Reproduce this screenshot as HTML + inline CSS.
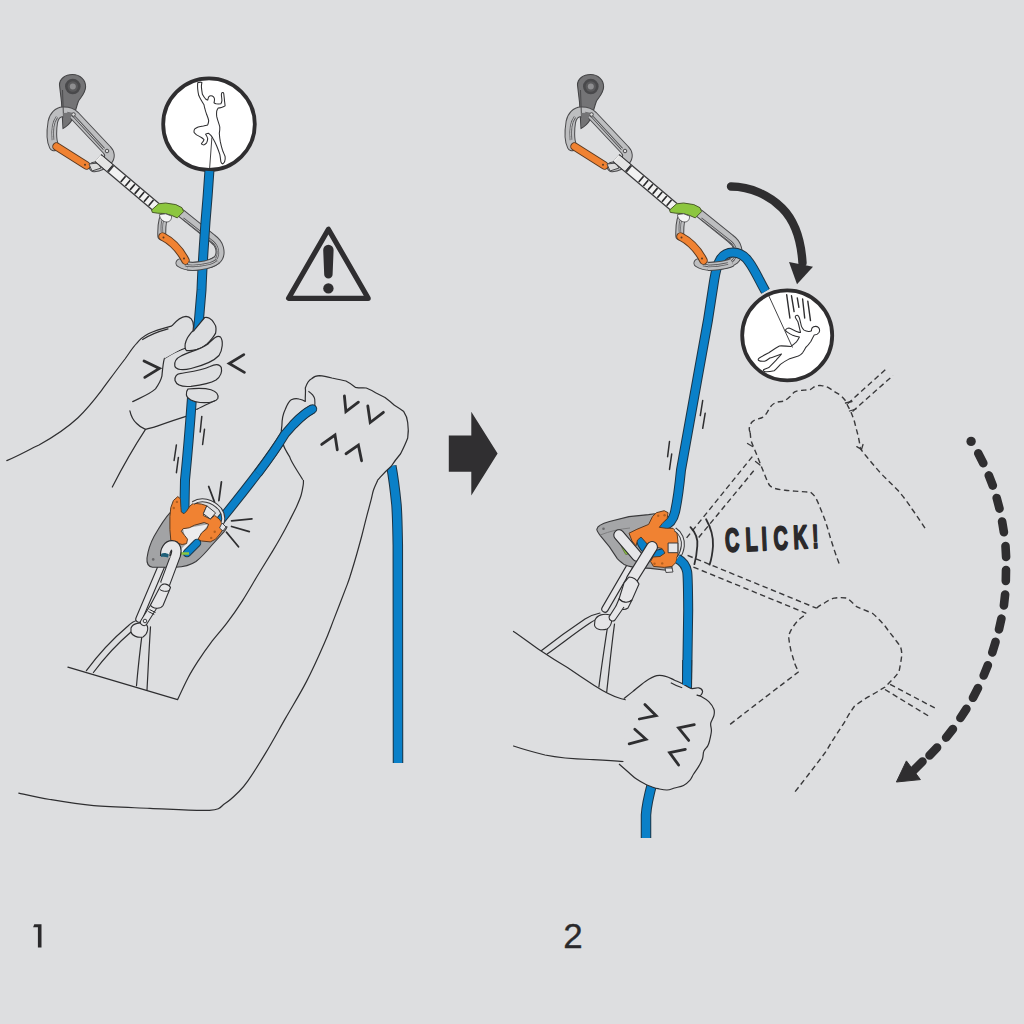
<!DOCTYPE html>
<html><head><meta charset="utf-8"><style>
html,body{margin:0;padding:0;background:#dddee0;width:1024px;height:1024px;overflow:hidden}
svg{display:block}
text{font-family:"Liberation Sans",sans-serif}
</style></head><body>
<svg width="1024" height="1024" viewBox="0 0 1024 1024">
<defs>
<g id="qd">
  <!-- hanger -->
  <path d="M59.5,85 C59.5,79 65,74.5 72.5,74.5 C80,74.5 85.8,80 85.6,87 C85.4,93 81,97 78.5,101 C76.5,106 75,114 72,120 C69.5,124 66,127 63,128.5 L61.5,102 Z" fill="#747476" stroke="#444446" stroke-width="1.1"/>
  <circle cx="72.8" cy="86.5" r="7.8" fill="#49494b"/>
  <circle cx="72.8" cy="86.5" r="5.2" fill="#5a5a5c"/>
  <circle cx="72.8" cy="86.5" r="3" fill="#8e8e90"/>
  <!-- top carabiner -->
  <path d="M54,146 C51,140 51.8,128 52.8,122 C54,116 58,112 63,111.8 C68,111.6 71.5,112.5 75,116 L107,150 C110,153 110.5,157 107.5,160.5 C104.5,163.5 99,166.5 94,167" fill="none" stroke="#4a4a4c" stroke-width="10.5" stroke-linecap="round" stroke-linejoin="round"/>
  <path d="M54,146 C51,140 51.8,128 52.8,122 C54,116 58,112 63,111.8 C68,111.6 71.5,112.5 75,116 L107,150 C110,153 110.5,157 107.5,160.5 C104.5,163.5 99,166.5 94,167" fill="none" stroke="#bdbec0" stroke-width="8.5" stroke-linecap="round" stroke-linejoin="round"/>
  <path d="M53,140 C52,130 53,122 57,117 M67,113 C70,113.5 73,115 75,117.5 L104,149" fill="none" stroke="#59595b" stroke-width="2.6"/>
  <path d="M53,140 C52,130 53,122 57,117 M67,113 C70,113.5 73,115 75,117.5 L104,149" fill="none" stroke="#c9cacc" stroke-width="1"/>
  <circle cx="73.5" cy="114.5" r="1.8" fill="#dcdcdc" stroke="#4a4a4c" stroke-width="1"/>
  <circle cx="107" cy="151" r="1.8" fill="#dcdcdc" stroke="#4a4a4c" stroke-width="1"/>
  <path d="M62.5,90 L63.5,118" stroke="#4a4a4c" stroke-width="1"/>
  <path d="M63.2,113 L72,112.5 L70,121 L63.5,127.5 Z" fill="#747476"/>
  <!-- top gate -->
  <path d="M56.5,146.5 L86.5,165.5" stroke="#5a3a22" stroke-width="8.5" stroke-linecap="round"/>
  <path d="M56.5,146.5 L86.5,165.5" stroke="#f08232" stroke-width="6.5" stroke-linecap="round"/>
  <circle cx="85" cy="164.8" r="1" fill="#5a3a22"/>
  <path d="M89,164 L98,163 L101,168 L92,171 Z" fill="#dcdcdc" stroke="#4a4a4c" stroke-width="1"/>
  <!-- sling -->
  <path d="M98,158 L156,207" stroke="#3a3a3c" stroke-width="10.5"/>
  <path d="M98,158 L156,207" stroke="#f2f2f2" stroke-width="8"/>
  <path d="M109.5,167.7 L111.5,169.4" stroke="#3a3a3c" stroke-width="8"/>
  <path d="M122.5,178.6 L154,205.3" stroke="#2a2a2c" stroke-width="7.5" stroke-dasharray="1.7 4.4"/>
  <path d="M99,158.8 L109.5,167.7" stroke="#e4e4e4" stroke-width="8"/>
  <!-- bottom carabiner -->
  <path d="M166,214 C162,218 161.5,226 161.8,236 M180,263 C186,267 193,266.8 200,265.8 C207,264.8 213,263 216.8,260 C220,257 220.5,252 219.5,248 C218.5,244 216,241 212.5,238.5 L181.5,213.5" fill="none" stroke="#4a4a4c" stroke-width="9" stroke-linecap="round" stroke-linejoin="round"/>
  <path d="M166,214 C162,218 161.5,226 161.8,236 M180,263 C186,267 193,266.8 200,265.8 C207,264.8 213,263 216.8,260 C220,257 220.5,252 219.5,248 C218.5,244 216,241 212.5,238.5 L181.5,213.5" fill="none" stroke="#bdbec0" stroke-width="7" stroke-linecap="round" stroke-linejoin="round"/>
  <path d="M162,232 C161.5,226 162,221 164,218 M185,265 C192,266.5 202,265.5 210,263.5 C214,262 217,259 217.8,255 C218.5,250 217,245.5 213,242 L183,218.5" fill="none" stroke="#59595b" stroke-width="2.4"/>
  <path d="M162,232 C161.5,226 162,221 164,218 M185,265 C192,266.5 202,265.5 210,263.5 C214,262 217,259 217.8,255 C218.5,250 217,245.5 213,242 L183,218.5" fill="none" stroke="#c9cacc" stroke-width="0.9"/>
  <!-- bottom gate -->
  <path d="M162.5,236.5 Q177,244 185.5,260.5" fill="none" stroke="#5a3a22" stroke-width="8.5" stroke-linecap="round"/>
  <path d="M162.5,236.5 Q177,244 185.5,260.5" fill="none" stroke="#f08232" stroke-width="6.5" stroke-linecap="round"/>
  <circle cx="163.5" cy="237.5" r="1" fill="#5a3a22"/>
  <circle cx="184" cy="258.5" r="1" fill="#5a3a22"/>
  <!-- green rubber -->
  <path d="M151.6,210 L158.6,203.8 L165.6,203 L175.8,204.6 L182,207.7 L183.6,211.6 L177.3,217.9 L171.9,215.5 L165.6,213.6 L157.8,213.2 L152.3,212.4 Z" fill="#8cc63f" stroke="#4a5a2a" stroke-width="1"/>
  <path d="M159.4,214.6 C160,219 163,222 167,222 C170,222 172,219 171.5,216 L165.6,213.8 Z" fill="#f4f4f4" stroke="#4a4a4c" stroke-width="0.8"/>
</g>
<!-- bottom bar segment of bottom carabiner (drawn over rope) -->
<g id="qdbar">
  <path d="M187.62,266.00 C191.60,266.71 195.80,266.40 200.00,265.80 C207,264.8 213,263 216.8,260" fill="none" stroke="#4a4a4c" stroke-width="9"/>
  <path d="M187.62,266.00 C191.60,266.71 195.80,266.40 200.00,265.80 C207,264.8 213,263 216.8,260" fill="none" stroke="#bdbec0" stroke-width="7"/>
  <path d="M186,265.3 C192,266.5 202,265.5 210,263.5 C213,262.5 215,261.3 216.5,260" fill="none" stroke="#59595b" stroke-width="2.4"/>
  <path d="M186,265.3 C192,266.5 202,265.5 210,263.5 C213,262.5 215,261.3 216.5,260" fill="none" stroke="#c9cacc" stroke-width="0.9"/>
</g>
</defs>
<rect width="1024" height="1024" fill="#dddee0"/>

<!-- ================= PANEL 1 ================= -->
<g id="p1">
<!-- warning triangle -->
<path d="M328.4,229.2 L288.6,298.3 L368.2,298.3 Z" fill="none" stroke="#2f2e30" stroke-width="5.2" stroke-linejoin="round"/>
<path d="M323.2,250 A5.2,5.2 0 0 1 333.6,250 L332.6,274.4 A4.2,4.2 0 0 1 324.2,274.4 Z" fill="#2f2e30"/>
<circle cx="328.4" cy="288.4" r="5.2" fill="#2f2e30"/>

<g fill="none" stroke="#2e2e30" stroke-width="1.2" stroke-linecap="round" stroke-linejoin="round">
<!-- left arm top line -->
<path d="M6.8,460.6 C20,455 30,449 39,445 C55,436 68,427 78,417.7 C88,408 95,399 101.6,390.3 C110,379 118,368 125,359 C130,352 133,347 136.7,343.4 C140,339 144,336 148.4,333.7 C156,330 164,328 171.9,325.9"/>
<path d="M142.6,339.5 C150,334.5 160,331 168,328.8"/>
<!-- left arm lower line -->
<path d="M112.3,487 C120,472 132,450 145.5,429.4"/>
<path d="M129.9,410.8 C131,416 134,421 136.7,423.5 C139,426 142,428 145.5,429.4 C150,428 153,427.5 156.25,426.4 C166,423 176,419.5 186,416.4"/>
<!-- palm / thumb crease -->
<path d="M132.7,401.6 C142,397 150,394 155.5,388.9 C159,384 161,380 161.9,376.2 C162.5,370 163,363 164.4,358.4 C170,355 178,350.5 186,348"/>
<!-- right forearm inner -->
<path d="M303.4,480.0 C303.4,480.8 303.6,482.5 303.2,485.0 C302.8,487.5 302.2,491.6 301.1,495.2 C300.0,498.8 298.3,502.6 296.4,506.9 C294.4,511.2 292.1,515.6 289.4,520.9 C286.7,526.2 282.8,533.5 280.0,538.5 C277.2,543.5 276.2,545.2 272.6,551.1 C269.0,557.0 263.5,565.8 258.5,574.0 C253.5,582.2 248.0,592.1 242.7,600.3 C237.4,608.5 232.1,616.2 226.8,623.2 C221.5,630.2 215.7,636.5 211.0,642.6 C206.3,648.8 202.5,654.2 198.7,660.1 C194.9,666.0 191.6,671.1 188.1,677.7 C184.6,684.3 179.3,696.0 177.6,699.7 L67.9,667.2"/>
<!-- right forearm outer -->
<path d="M377.6,480.5 C376.9,482.1 374.5,487.0 373.5,490.0 C372.5,493.0 372.5,494.3 371.4,498.7 C370.3,503.1 368.3,510.2 366.7,516.3 C365.1,522.3 363.7,528.5 362.0,535.0 C360.3,541.5 358.4,548.3 356.5,555.0 C354.6,561.7 352.1,569.9 350.5,575.0 C348.9,580.1 349.6,578.2 346.9,585.4 C344.2,592.6 338.0,608.7 334.2,618.4 C330.4,628.1 328.8,633.2 324.1,643.8 C319.5,654.4 312.7,669.6 306.3,681.9 C299.9,694.2 292.8,705.6 286.0,717.4 C279.2,729.2 272.1,742.3 265.7,752.9 C259.3,763.5 252.5,774.3 247.9,780.9 C243.3,787.5 241.8,788.7 238.0,792.5 C234.2,796.3 229.8,800.5 225.0,803.5 C220.2,806.5 221.9,809.5 209.4,810.3 C196.9,811.1 169.3,809.1 150.0,808.3 C130.7,807.5 110.4,807.1 93.8,805.6 C77.1,804.1 62.5,801.6 50.0,799.5 C37.5,797.4 24.0,794.2 18.8,793.1"/>
<!-- harness -->
<path d="M86.4,670.7 C100,652 115,637 128,626 C131,623 134,621 137,620.5"/>
<path d="M93.4,672.5 C105,657 118,643 131,632"/>
<path d="M136.5,685.7 C138,668 140,650 142.6,630.3"/>
<path d="M147,690 C148,672 149,650 150.5,626.8"/>
</g>

<use href="#qd"/>

<!-- circle 1 -->
<circle cx="209" cy="124.2" r="45.8" fill="#fff" stroke="#2f2e30" stroke-width="3.8"/>
<path d="M197.7,82.7 C199,82.2 200.8,82 201.9,82.4 C201.6,84 201.3,85.5 201.4,86.9 C201.6,89.5 202,92 202.4,94.3 C203.3,96 204.3,97.6 205.6,99 C206.3,99.5 207,99.9 207.7,100.1 C208,99 208.2,97.8 208.7,96.9 C209.3,96.2 210,95.8 210.9,95.8 C212,95.8 212.9,96.2 213.5,96.9 C214.2,97.7 214.6,98.6 214.5,99.5 C214.5,100.7 214.3,101.8 214,102.7 C214.7,103.2 215.4,103.6 216.1,103.8 C217.7,104 219.3,104 220.9,103.8 C221.5,102.8 221.8,101.7 221.9,100.6 C221.9,98.8 221.6,97 221.4,95.3 C221.3,94.3 221.5,93.4 221.9,92.7 C222.4,92.5 223,92.5 223.5,92.7 C223.8,93.7 223.9,94.7 224,95.8 C224.3,97.8 224.4,99.7 224.6,101.6 C224.8,103 225,104.5 225.1,105.9 C224,106.6 222.7,107.1 221.4,107.4 C220.3,107.7 219.2,107.9 218.2,108 C217.6,109 217,110 216.7,111.1 C216.5,112.9 216.5,114.6 216.7,116.4 C217.1,118.2 217.6,119.9 218.2,121.7 C218.8,123.5 219.4,125.2 219.8,127 C219.9,129.1 219.7,131.2 219.3,133.3 C219.5,136 219.8,138.9 220.3,141.7 C220.9,144.6 221.6,147.4 222.5,150.2 C223.3,152.3 224.3,154.4 225.1,156.5 C225.4,158.3 225.2,160.1 224.6,161.8 C224,162.9 223.3,163.6 222.5,163.9 C221.7,163.4 221.2,162.7 220.9,161.8 C220.5,159.3 220.3,156.8 219.8,154.4 C218.9,151.5 217.8,148.7 216.7,146 C215.6,143.5 214.4,141 213,138.6 C212.4,137.5 211.7,136.4 210.9,135.4 C210.2,134.6 209.5,133.9 208.7,133.3 C207.7,133.4 206.6,133.8 205.6,134.3 C206.5,135.6 207.3,137.1 207.7,138.6 C207.6,140.1 207.2,141.6 206.6,142.8 C205.8,143.7 204.9,144.4 204,144.9 C203,144.8 202,144.4 201.4,143.8 C201.8,143 202.4,142.3 203,141.7 C203.4,141 203.8,140.3 204,139.6 C203.2,138.8 202.3,138.1 201.4,137.5 C199.8,136.7 198.2,135.8 196.6,134.9 C195.6,134.1 194.7,133.2 194,132.2 C193.9,131.1 194.1,130 194.5,129.1 C195.6,128.2 196.9,127.5 198.2,127 C200,126.5 201.7,126.2 203.5,125.9 C204.9,125.6 206.3,125.2 207.7,124.9 C208.2,123.5 208.6,122 208.7,120.6 C208.2,118.4 207.4,116.3 206.6,114.3 C206,112.5 205.4,110.8 205,109 C204.5,107.6 204.2,106.2 204,104.8 C203.1,103.4 202.2,102 201.4,100.6 C200.4,98.9 199.5,97.1 198.7,95.3 C198.2,93.2 197.9,91.1 197.7,89 C197.5,86.9 197.5,84.8 197.7,82.7 Z" fill="#fff" stroke="#2e2e30" stroke-width="1.05" stroke-linejoin="round"/>
<path d="M211.9,137.5 L209.5,170" stroke="#2e2e30" stroke-width="0.9" fill="none"/>

<!-- harness: locking carabiner back spine -->
<g fill="none" stroke-linecap="round">
 <path d="M161.5,566 L139,619" stroke="#2e2e30" stroke-width="7.5"/>
 <path d="M161.5,566 L139,619" stroke="#e4e4e6" stroke-width="5.3"/>
</g>
<path d="M131,628 C133,623 140,622 146,624 C149,627 148,634 143,637 C138,638 132,636 131,632 Z" fill="#e4e4e6" stroke="#2e2e30" stroke-width="1.1"/>

<!-- device 1 gray plate -->
<path d="M169.9,512.9 C166,517 160,526 154,536.6 C150,544 148,551 147,558 C146.5,563 148,566.5 152.5,567.3 L175.2,567.3 C182,567 190,565.5 196,561.5 C202,557 207,551 212,545 L224.4,531.3 C226,529 227,527.5 227,526.9 Z" fill="#a2a3a5" stroke="#3a3a3c" stroke-width="1.1"/>
<circle cx="153.2" cy="559.4" r="1.3" fill="#6a6a6c"/>
<!-- device hole -->
<path d="M183,528.7 L208.6,524.3 L201.5,533 L197,543 L192,551 L185,553.5 L179,551 L186.6,543.6 Z" fill="#ececee"/>
<path d="M197,543 L187,553" stroke="#1e3a4e" stroke-width="8.5" stroke-linecap="round"/>
<path d="M197,543 L187,553" stroke="#0a80c8" stroke-width="6.5" stroke-linecap="round"/>
<path d="M180,553.5 L189,553.5" stroke="#8cc63f" stroke-width="2.5"/>

<!-- rope main -->
<path d="M209.4,171 C208.5,185 207,205 205.5,222 C204,245 202.5,262 201.5,290 L197.6,336" fill="none" stroke="#1d3444" stroke-width="10"/>
<path d="M209.4,171 C208.5,185 207,205 205.5,222 C204,245 202.5,262 201.5,290 L197.6,336" fill="none" stroke="#0a80c8" stroke-width="8"/>
<path d="M192.2,396 L191.8,400 C190,425 187.5,455 185,480 L184.4,512" fill="none" stroke="#1d3444" stroke-width="10" stroke-linecap="round"/>
<path d="M192.2,396 L191.8,400 C190,425 187.5,455 185,480 L184.4,512" fill="none" stroke="#0a80c8" stroke-width="8" stroke-linecap="round"/>

<use href="#qdbar"/>

<!-- rope right (device to fist) -->
<path d="M220.00,521.00 C242.00,494.00 268.00,462.00 285.00,434.00 C295.00,422.00 303.00,414.00 312.50,409.00" fill="none" stroke="#1d3444" stroke-width="9.4"/>
<path d="M220.00,521.00 C242.00,494.00 268.00,462.00 285.00,434.00 C295.00,422.00 303.00,414.00 312.50,409.00" fill="none" stroke="#0a80c8" stroke-width="7.4"/>
<!-- device orange -->
<path d="M170.8,507.6 L173.4,500.5 L177.8,496.6 L180.4,498.8 L180.9,507.6 L181.3,512 L184,513.7 L186.6,511.1 L190.1,505.8 L193.6,503.2 L201.5,504.1 L206.8,505.8 L204.2,512 L203.3,515.5 L210.3,519 L214.7,515.5 L219.1,519 L222.6,523.4 L223.5,528.7 L220,533.9 L215.6,539.2 L210.3,541.9 L201.5,541 L198,539.2 L201.5,533 L206.8,528.7 L208.6,524.3 L204.2,522.5 L194.5,525.2 L189.2,527.8 L183.1,528.7 L181.3,531.3 L184.8,535.7 L187.5,539.2 L186.6,543.6 L182.2,544.5 L175.2,542.7 L170.8,540.1 L169.9,529.6 L169.9,516.4 Z" fill="#f08232" stroke="#5a3a22" stroke-width="1" stroke-linejoin="round"/>
<path d="M206.8,505.8 L215.6,512.9 L210.3,519 L203.3,513.7 Z" fill="#e6e6e8" stroke="#3a3a3c" stroke-width="1"/>
<path d="M193,503 C201,498 212,500 220,509 C223,513 224,518 222.5,523" fill="none" stroke="#3a3a3c" stroke-width="4"/>
<path d="M193,503 C201,498 212,500 220,509 C223,513 224,518 222.5,523" fill="none" stroke="#e6e6e8" stroke-width="2"/>
<g fill="#b4601f"><circle cx="176.9" cy="501.9" r="1.2"/><circle cx="173.8" cy="508" r="1.2"/><circle cx="214.7" cy="531.7" r="1.2"/><circle cx="211.2" cy="537.9" r="1.2"/></g>
<path d="M222,523 L226,527 L223,531 L219.5,528 Z" fill="#e6e6e8" stroke="#3a3a3c" stroke-width="0.9"/>

<!-- rope hanging -->
<path d="M391.3,466 C393,475 395,490 396.5,505 C397.5,520 397.5,531 397.8,545 L398,763" fill="none" stroke="#1d3444" stroke-width="10.5"/>
<path d="M391.3,466 C393,475 395,490 396.5,505 C397.5,520 397.5,531 397.8,545 L398,763" fill="none" stroke="#0a80c8" stroke-width="8.5"/>

<!-- locking carabiner front -->
<g fill="none" stroke-linecap="butt" stroke-linejoin="round">
 <path d="M165.2,556 C164.8,550 168,545.3 172,545.3 C176,545.3 177.3,550 175.8,555 L165,584" stroke="#2e2e30" stroke-width="10.5"/>
 <path d="M165.2,556 C164.8,550 168,545.3 172,545.3 C176,545.3 177.3,550 175.8,555 L165,584" stroke="#e6e6e8" stroke-width="8.3"/>
</g>
<path d="M159.5,556 L170.9,556 L169.2,558.5 L160.7,558.5 Z" fill="#a2a3a5"/>
<path d="M161.2,553.8 C163.2,552.6 166.7,552.8 168.9,554.6 L167.9,557.6 C165.7,556.6 163,556.4 160.9,557 Z" fill="#1f5f78"/>
<path d="M154,606 L144,622" stroke="#2e2e30" stroke-width="8" stroke-linecap="round"/>
<path d="M154,606 L144,622" stroke="#e6e6e8" stroke-width="6" stroke-linecap="round"/>
<path d="M149.5,609.5 L155.5,612.5 M148.3,611.5 L154.3,614.5" stroke="#2e2e30" stroke-width="1"/>
<path d="M160.5,586 C163,583 168.5,583.5 170.5,587.5 L163,605.5 C160.5,609.5 152.5,609 150.5,605 Z" fill="#e6e6e8" stroke="#2e2e30" stroke-width="1.1" stroke-linejoin="round"/>
<path d="M159.8,589.5 C162.5,591.5 166.5,592 169.3,590.5" fill="none" stroke="#2e2e30" stroke-width="1"/>
<circle cx="145" cy="621" r="1.8" fill="#e6e6e8" stroke="#2e2e30" stroke-width="0.9"/>

<!-- left hand fingers (over rope) -->
<g fill="#dddee0" stroke="#2e2e30" stroke-width="1.2" stroke-linejoin="round">
<path d="M171.9,325.9 C176,321 181,316.5 186,316.3 C190,316.5 193.5,320 193.5,326 C193.5,331 191.5,336 188,340 C185,344 183,347 181,349 L164.4,358.4 C166,352 170,346 174,340 Z" stroke="none"/>
<path d="M171.9,325.9 C176,321 181,316.5 186,316.3 C190,316.5 193.5,320 193.5,326 C193.5,331 191.5,336 188,340" fill="none"/>
<path d="M193.75,330.8 C197,327 201,322 204.7,317.5 C206,317.2 208,317.5 209.4,318.3 C211.5,319.5 213,321 214,323 C215.3,324.8 216,326.5 216,328.4 C216,330 215.9,331.6 215.6,333.1 C214.7,334.8 213.7,336.4 212.5,337.8 C210.8,340 209,342 207,344 C205,345.6 203,347 200.8,348 C198,349.3 195,350 192.2,350.3 C190.3,350.6 188.5,350.8 186.7,350.7 C185.8,350 185.3,349 185.2,348 C185,346.7 185,345.3 185.2,344 C185.7,341.8 186.5,339.7 187.5,337.8 C188.7,335.9 190,334 191.4,332.3 C192.2,331.7 193,331.2 193.75,330.8 Z"/>
<path d="M181,356 C188,352 200,350 208,344 C213,339 217,334.5 220.5,337 C223.5,341 222.5,350 219,355.5 C214,361 205,365 191,368.5 C183,370.5 176,370 174.8,366 C174,361 177,358 181,356 Z"/>
<path d="M179.7,373.6 C188,372 200,371 210,366.5 C215,364 219.5,363.5 221.3,367.5 C222.5,373 220,377 216,380 C211,383 202,385 191,386.3 C183,387 176.5,385 175,380.5 C174.5,376.5 177,374 179.7,373.6 Z"/>
<path d="M188,389 C195,388.3 205,388 211,389.8 C216,391.5 219,394 217.8,398.5 C215.5,402 208,403 200,402.5 C193,402 187,399 186.4,395 C186.3,392 187,390 188,389 Z"/>
</g>
<g fill="none" stroke="#2e2e30" stroke-width="1.2" stroke-linecap="round">
<path d="M196.7,409.4 C203,406 209,403.5 214.7,400.8"/>
</g>

<!-- right fist (over rope) -->
<path d="M302.8,479.8 C297,470 291,462 289.7,456.9 C286,451 283.5,446 283.4,444.4 C281,436 281,430 281.9,425.6 C282,418 283,414 285,410 C287,405 289,401 291.25,399.8 C294,398.5 297,398.3 299,399 C302,399.5 304,400.5 305.3,401.4 C305,395 306,391 305.3,388 C307,383 309,380 311.6,378.75 C314,376.5 317,375.6 319.4,375.6 C324,376 328,377 331.9,378 C337,379 342,380 345.9,381 C350,383 353,385.5 355.3,387.3 C359,388 363,387.8 366.25,388 C370,389.5 373,391 375.6,392.8 C379,394.5 382,396 385,397.5 C389,400.5 392,403 394.4,405.3 C398,407.5 401,409.5 403.75,411.6 C406,415 407.5,419 407.7,422.5 C408.5,428 408.5,433 407.7,438 C405.5,444 403,449 400.6,453.75 C397,458 394,462 391.25,466.25 C387,470 383,474 380.3,477.2 C379,479 378,480 377.3,479.8" fill="#dddee0" stroke="#2e2e30" stroke-width="1.2" stroke-linejoin="round"/>
<path d="M308.4,391.25 C311,393 314,396 314.7,399 C315,402 315,405 314.7,406.9" fill="none" stroke="#2e2e30" stroke-width="1.1"/>
<!-- rope top end over fist -->
<path d="M257.77,473.41 C267.88,460.01 277.35,446.60 285.00,434.00 C295.00,422.00 303.00,414.00 312.50,409.00" fill="none" stroke="#1d3444" stroke-width="9.4"/>
<path d="M293.55,424.25 C299.94,417.47 305.85,412.50 312.50,409.00" fill="none" stroke="#1d3444" stroke-width="9.4" stroke-linecap="round"/>
<path d="M257.77,473.41 C267.88,460.01 277.35,446.60 285.00,434.00 C295.00,422.00 303.00,414.00 312.50,409.00" fill="none" stroke="#0a80c8" stroke-width="7.4"/>
<path d="M293.55,424.25 C299.94,417.47 305.85,412.50 312.50,409.00" fill="none" stroke="#0a80c8" stroke-width="7.4" stroke-linecap="round"/>
<!-- chevrons -->
<g fill="none" stroke="#2e2e30" stroke-width="2.8" stroke-linecap="round" stroke-linejoin="miter">
<path d="M144,361 L159.4,368.5 L144.8,377.4"/>
<path d="M243.8,354.6 L229.2,363.5 L244.4,372.4"/>
<path d="M344.4,396 L345.9,411.6 L358.4,402.2"/>
<path d="M367.8,406 L370.2,422.5 L383.4,412.3"/>
<path d="M321.7,444.4 L335,435 L337.3,449.8"/>
<path d="M346,453.75 L358.4,445.2 L361.6,460.8"/>
</g>
<!-- motion & spark lines -->
<g fill="none" stroke="#2e2e30" stroke-width="1.5" stroke-linecap="round">
<path d="M201.8,416.4 L200.2,432"/><path d="M204.5,429.3 L202.6,444.5"/>
<path d="M176.4,444.9 L174.1,460.5"/><path d="M178.4,457.4 L176.4,472.7"/>
</g>
<g fill="none" stroke="#2e2e30" stroke-width="1.8" stroke-linecap="round">
<path d="M208.7,486.5 L214.4,501.7"/><path d="M221.4,482 L218.9,500.5"/>
<path d="M231.6,520.8 L251.9,518.9"/><path d="M231.6,526.5 L249.3,531.6"/><path d="M226.5,532.2 L238.5,546.8"/>
</g>

<path d="M34.3,924.2 L41.5,924.2 L41.5,947.4 L37.9,947.4 L37.9,927.3 L33.1,927.3 Z" fill="#2a292b"/>
</g>

<!-- big arrow between panels -->
<path d="M448.8,435.6 L471.3,435.6 L471.3,411.8 L497.6,453.6 L471.3,495.4 L471.3,471.8 L448.8,471.8 Z" fill="#302f31"/>

<!-- ================= PANEL 2 ================= -->
<g id="p2">
<!-- arm/harness lines -->
<g fill="none" stroke="#2e2e30" stroke-width="1.2" stroke-linecap="round" stroke-linejoin="round">
<path d="M513.5,631.4 C522,637 531,644 540.4,650.5 C550,657 558,662 567.4,667.4 C577,674 586,680 594.3,685.4 C603,691 612,696 621.3,698.8 C625,700 629,700.5 632.5,701"/>
<path d="M513.5,746 C524,749.5 535,752.5 545,755 C560,758 575,759 589.8,759.5 C600,760 612,760.5 623.5,761.7"/>
<path d="M541.6,650.5 C555,640 570,629 585,619 C590,616 595,614 600,613"/>
<path d="M547.2,654 C560,645 575,633 590,623 C594,620 598,618.5 603,618"/>
<path d="M598.9,687 C601,670 604,650 607.5,627"/>
<path d="M606.7,692 C609,672 611,650 614.5,624"/>
</g>

<use href="#qd" transform="translate(518,0)"/>

<!-- harness carabiner back spine -->
<g fill="none" stroke-linecap="round">
 <path d="M630,566 L605,609" stroke="#2e2e30" stroke-width="7.5"/>
 <path d="M630,566 L605,609" stroke="#e4e4e6" stroke-width="5.3"/>
</g>
<path d="M595,620 C597,615 604,613 610,615 C613,618 612,626 607,629 C601,631 595,629 594.5,625 Z" fill="#e4e4e6" stroke="#2e2e30" stroke-width="1.1"/>

<!-- device 2 gray plate -->
<path d="M596.8,529.3 C597.5,527 598.5,526 599.8,525.4 C603,523.5 606,522.5 609.5,521.5 L629,516.6 L648.6,514.6 L654.5,513.7 L672,560 L672,570.3 L666.2,570.3 L650.5,568.4 L634,567.4 C630,566.5 627,565.8 624.2,564.5 C621,562 619,560.5 617.3,558.6 L609.5,546.9 L600.7,536.1 C598.5,533.5 597,531 596.8,529.3 Z" fill="#a5a6a8" stroke="#3a3a3c" stroke-width="1.1" stroke-linejoin="round"/>
<path d="M599.8,535.2 C610,531 620,529 630,528" fill="none" stroke="#7a7a7c" stroke-width="0.9"/>
<circle cx="603.5" cy="528.8" r="1.3" fill="#6a6a6c"/>
<path d="M620.5,543.5 C623.5,545 626.5,548.5 628.2,554 L625.8,554.5 C623.5,551 621.5,547.5 620.5,543.5 Z" fill="#8cc63f" stroke="#4a5a2a" stroke-width="0.6"/>

<!-- rope panel 2 top -->
<path d="M765.5,291.3 C760,282 755,270 749,262 C745,256 740,252.5 733,252.5 C727,252.5 722.5,255.5 720,260 C717,265 715.5,272 714.2,280 L708,320 L697.2,380 L681,470 C679,490 677,503 675,512 C673.5,519 670,524 664,525.5 L660,526" fill="none" stroke="#1d3444" stroke-width="10" stroke-linejoin="round"/>
<path d="M765.5,291.3 C760,282 755,270 749,262 C745,256 740,252.5 733,252.5 C727,252.5 722.5,255.5 720,260 C717,265 715.5,272 714.2,280 L708,320 L697.2,380 L681,470 C679,490 677,503 675,512 C673.5,519 670,524 664,525.5 L660,526" fill="none" stroke="#0a80c8" stroke-width="8" stroke-linejoin="round"/>
<!-- bottom bar over rope (panel 2) -->
<g transform="translate(518,0)">
  <path d="M190,266.4 C193.5,266.6 197,266.2 200,265.8 C207,264.8 211,263.7 214,262.3" fill="none" stroke="#4a4a4c" stroke-width="9"/>
  <path d="M190,266.4 C193.5,266.6 197,266.2 200,265.8 C207,264.8 211,263.7 214,262.3" fill="none" stroke="#bdbec0" stroke-width="7"/>
  <path d="M190,266 C194,266 202,265.5 210,263.5" fill="none" stroke="#59595b" stroke-width="2.4"/>
  <path d="M190,266 C194,266 202,265.5 210,263.5" fill="none" stroke="#c9cacc" stroke-width="0.9"/>
</g>
<!-- rope inside device -->
<path d="M640.5,539 C642,545 646,550 652,553.5 C656,555 660,554.5 664,553" fill="none" stroke="#1d3444" stroke-width="10" stroke-linecap="round"/>
<path d="M640.5,539 C642,545 646,550 652,553.5 C656,555 660,554.5 664,553" fill="none" stroke="#0a80c8" stroke-width="8" stroke-linecap="round"/>
<!-- white top loop of carabiner -->
<g fill="none" stroke-linecap="round">
 <path d="M619,535 L637,556" stroke="#2e2e30" stroke-width="11.5"/>
 <path d="M619,535 L637,556" stroke="#e6e6e8" stroke-width="9.3"/>
</g>
<!-- orange 2 -->
<path d="M629,533.2 L636.9,529.3 L648.6,524.4 L652.5,516.6 L656.4,512.7 L664.2,510.7 L668.1,512.7 L667.1,518.6 L662.3,523.4 L659.3,527.3 L666.2,528.3 L673,528.3 L676.9,532.2 L677.9,541 L677.9,554.7 L675.9,562.5 L672,566.4 L664.2,567.4 L653.5,566.4 L650.5,561.5 L653,557 L660,556.5 L665,553 L662,548.5 L655,547 L649,546 L645,541.5 L641,537 L637.5,540 L636,545.9 L632,541 Z" fill="#f08232" stroke="#5a3a22" stroke-width="1" stroke-linejoin="round"/>
<path d="M668.1,543 L677.9,543 L677.9,552.7 L668.1,552.7 Z" fill="#e6e6e8" stroke="#3a3a3c" stroke-width="1"/>
<path d="M675,529.3 C681,533 683.5,540 682.8,546 C682.3,551 680.5,555 677.9,558.6" fill="none" stroke="#3a3a3c" stroke-width="4"/>
<path d="M675,529.3 C681,533 683.5,540 682.8,546 C682.3,551 680.5,555 677.9,558.6" fill="none" stroke="#e6e6e8" stroke-width="2"/>
<g fill="#b4601f"><circle cx="658.2" cy="515.8" r="1.2"/><circle cx="664.6" cy="515.2" r="1.2"/><circle cx="654.5" cy="563.8" r="1.2"/><circle cx="662.2" cy="563.4" r="1.2"/></g>
<path d="M665,568 L672,568 L673,572 L666,572.5 Z" fill="#e6e6e8" stroke="#3a3a3c" stroke-width="0.9"/>
<!-- rope exit down to hand -->
<path d="M677.6,558.7 C682,561 686,565 687.2,572 C688,577 688,590 688.2,610 L687,690" fill="none" stroke="#1d3444" stroke-width="10"/>
<path d="M677.6,558.7 C682,561 686,565 687.2,572 C688,577 688,590 688.2,610 L687,690" fill="none" stroke="#0a80c8" stroke-width="8"/>
<!-- carabiner front tube -->
<g fill="none" stroke-linecap="round">
 <path d="M652,547 L632,579" stroke="#2e2e30" stroke-width="12"/>
 <path d="M652,547 L632,579" stroke="#e6e6e8" stroke-width="9.8"/>
</g>
<path d="M624,583 L629,577 C633,577 637,580 639,584 L632,600 C628,604 623,603 619,599 Z" fill="#e6e6e8" stroke="#2e2e30" stroke-width="1.1"/>
<path d="M619,599 C622,602 627,604 632,600 L628,608 C624,611 618,609 616,606 Z" fill="#e6e6e8" stroke="#2e2e30" stroke-width="1.1"/>
<path d="M616,606 L609,617 C609,621 613,622 615,620 L624,607" fill="#e6e6e8" stroke="#2e2e30" stroke-width="1.1"/>

<!-- rope below hand -->
<path d="M652.5,782 C649,795 646.5,805 646,815 L646,838" fill="none" stroke="#1d3444" stroke-width="10.5"/>
<path d="M652.5,782 C649,795 646.5,805 646,815 L646,838" fill="none" stroke="#0a80c8" stroke-width="8.5"/>

<!-- hand panel 2 (over rope) -->
<path d="M623.8,698.6 C625.3,697.4 629.1,694.5 632.7,691.6 C636.3,688.7 641.4,684.0 645.4,681.4 C649.4,678.8 653.4,676.6 656.8,675.7 C660.2,674.9 662.7,675.5 665.7,676.3 C668.7,677.0 671.9,679.0 674.6,680.2 C677.3,681.4 679.3,682.1 682.0,683.5 C684.7,684.9 688.2,687.7 691.0,688.4 C693.8,689.1 696.8,687.4 698.7,687.8 C700.6,688.2 702.2,689.7 702.5,691.0 C702.8,692.3 701.5,694.7 700.6,695.4 C699.7,696.1 697.6,695.2 697.0,695.2 L697.0,695.2 C697.7,695.4 699.2,695.4 701.2,696.5 C703.2,697.6 706.7,699.6 708.8,701.7 C710.9,703.8 713.0,707.0 713.9,709.3 C714.8,711.6 714.4,713.4 713.9,715.7 C713.4,718.0 711.1,720.8 710.7,723.3 C710.3,725.8 711.6,728.0 711.4,731.0 C711.2,734.0 710.1,738.5 709.5,741.0 C708.9,743.5 708.6,744.4 707.6,746.1 C706.6,747.8 704.6,749.1 703.8,751.2 C702.9,753.3 703.4,756.3 702.5,758.8 C701.6,761.3 700.2,763.9 698.7,766.4 C697.2,768.9 695.1,771.7 693.6,774.0 C692.1,776.3 691.5,778.5 689.8,780.4 C688.1,782.3 686.0,784.2 683.5,785.5 C681.0,786.8 677.4,787.2 674.6,788.0 C671.9,788.8 669.8,789.9 667.0,790.0 C664.2,790.1 660.6,789.2 658.1,788.7 C655.6,788.2 653.8,787.5 651.7,786.8 C649.6,786.0 647.9,785.5 645.4,784.2 C642.9,782.9 639.5,781.2 636.5,779.1 C633.5,777.0 630.5,774.0 627.6,771.5 C624.7,769.0 620.4,765.2 619.0,764.0 L623.5,761.7 L625.8,698.8 Z" fill="#dddee0" stroke="none"/>
<path d="M623.8,698.6 C625.3,697.4 629.1,694.5 632.7,691.6 C636.3,688.7 641.4,684.0 645.4,681.4 C649.4,678.8 653.4,676.6 656.8,675.7 C660.2,674.9 662.7,675.5 665.7,676.3 C668.7,677.0 671.9,679.0 674.6,680.2 C677.3,681.4 679.3,682.1 682.0,683.5 C684.7,684.9 688.2,687.7 691.0,688.4 C693.8,689.1 696.8,687.4 698.7,687.8 C700.6,688.2 702.2,689.7 702.5,691.0 C702.8,692.3 701.5,694.7 700.6,695.4 C699.7,696.1 697.6,695.2 697.0,695.2 L697.0,695.2 C697.7,695.4 699.2,695.4 701.2,696.5 C703.2,697.6 706.7,699.6 708.8,701.7 C710.9,703.8 713.0,707.0 713.9,709.3 C714.8,711.6 714.4,713.4 713.9,715.7 C713.4,718.0 711.1,720.8 710.7,723.3 C710.3,725.8 711.6,728.0 711.4,731.0 C711.2,734.0 710.1,738.5 709.5,741.0 C708.9,743.5 708.6,744.4 707.6,746.1 C706.6,747.8 704.6,749.1 703.8,751.2 C702.9,753.3 703.4,756.3 702.5,758.8 C701.6,761.3 700.2,763.9 698.7,766.4 C697.2,768.9 695.1,771.7 693.6,774.0 C692.1,776.3 691.5,778.5 689.8,780.4 C688.1,782.3 686.0,784.2 683.5,785.5 C681.0,786.8 677.4,787.2 674.6,788.0 C671.9,788.8 669.8,789.9 667.0,790.0 C664.2,790.1 660.6,789.2 658.1,788.7 C655.6,788.2 653.8,787.5 651.7,786.8 C649.6,786.0 647.9,785.5 645.4,784.2 C642.9,782.9 639.5,781.2 636.5,779.1 C633.5,777.0 630.5,774.0 627.6,771.5 C624.7,769.0 620.4,765.2 619.0,764.0" fill="none" stroke="#2e2e30" stroke-width="1.2" stroke-linejoin="round"/>
<path d="M670.8,682.7 C674,684.5 678,686.5 682.2,687.8" fill="none" stroke="#2e2e30" stroke-width="1.1"/>
<!-- rope segment above hand top (visible over thumb) -->
<path d="M687.2,660 L687,684" fill="none" stroke="#1d3444" stroke-width="10"/>
<path d="M687.2,660 L687,685" fill="none" stroke="#0a80c8" stroke-width="8"/>

<g fill="none" stroke="#2e2e30" stroke-width="2.8" stroke-linecap="round">
<path d="M644.9,704.4 L656.1,715.7 L639.3,719"/>
<path d="M634.8,729.2 L646,739.3 L629.2,743.8"/>
<path d="M694.3,724.7 L678.6,728 L688.7,740.4"/>
<path d="M685.3,749.4 L669.6,752.7 L678.6,765"/>
</g>

<!-- motion lines -->
<g fill="none" stroke="#2e2e30" stroke-width="1.5" stroke-linecap="round">
<path d="M702.7,400.5 L700.3,415.6"/><path d="M705.2,413.2 L702.7,428.3"/>
<path d="M669.5,441.5 L667.6,456.7"/><path d="M671.7,454 L669.5,469.4"/>
</g>

<!-- circle 2 -->
<circle cx="787.2" cy="335.4" r="45" fill="#fff" stroke="#2f2e30" stroke-width="3.8"/>
<path d="M814.2,334.9 C812.5,338 811.5,340 811,341.2 C809,344 807.5,346 805.7,347.5 C804.5,350 803.5,351.5 802.6,352.8 C801,354.5 799.5,355.5 798.3,356 C795,357 792,358 788.9,359.1 C786,360.5 783,362.5 780.4,364.4 C778,367 776,369.5 774.1,370.7 C771,371.5 768,372 765.6,371.8 C763.5,371.5 763,370.5 763.5,369.7 C765,368.7 767,368.2 768.8,367.6 C771,365.5 773.5,363 776.2,360.2 C778,358 780,356 781.5,354 C777,355.5 773,357 769.9,358 C768,359.5 766,360.8 764.6,361.2 C762,361.5 759.5,361 758.3,360.2 C758,359.2 758.5,358.5 759.3,358 C762.5,356 765.5,354.5 768.8,352.8 C772,350.5 776,347.5 779.4,345.9 C783,345.8 787,346 791,346.5 C792.5,345 794,344 796.2,342.2 C797.5,340.5 798.5,339 799.4,337 C797,336.5 794.5,335.8 792,334.9 C789.5,333.5 788,332.5 786.7,331.7 C785.5,331 785.3,330 785.7,329.6 C786.5,328.7 787.7,328 788.9,328 C791.5,329 794.5,330.5 797.3,331.7 C798.5,332.2 799.5,332.5 800.5,332.5 C800,330 799,326 798,322 C797,320 795.5,318.5 795.2,316.9 C795.5,315.8 796.3,315.2 797.3,315.3 C798.3,315.7 799,316.8 799.4,318 C800.2,320.8 800.8,323.6 801.5,326.4 C802.2,327.8 803,329 804.1,330.1 C805.5,330.9 807,331.3 808.5,331.4 C809.5,331.5 810.7,331.3 811.5,330.8 C811.3,329.3 812,327.6 813.5,326.8 C815.2,326.1 817.3,326.4 818.6,327.6 C819.7,329 819.8,331 819,332.5 C818,334 816.3,334.9 814.2,334.9 Z" fill="#fff" stroke="#2e2e30" stroke-width="1.05" stroke-linejoin="round"/>
<path d="M768.8,295.8 L792.5,347.5" stroke="#2e2e30" stroke-width="0.9" fill="none"/>
<g stroke="#2e2e30" stroke-width="1.4" stroke-linecap="round" fill="none">
 <path d="M786.7,294.8 L789.9,318"/><path d="M791.5,295.8 L794.1,311.6"/><path d="M797.3,298 L798.9,307.4"/><path d="M802.6,299 L804.7,318"/><path d="M807.8,301.1 L810.5,320.6"/>
</g>

<!-- curved arrow -->
<path d="M731,186.5 C751,186.5 770,196 782,208 C794,220 801,238 802.5,263" fill="none" stroke="#2f2e30" stroke-width="8.4" stroke-linecap="round"/>
<path d="M789,262 L813,266.7 L797,284.3 Z" fill="#2f2e30"/>

<!-- ghost (dashed) -->
<g fill="none" stroke="#39393b" stroke-width="1.4" stroke-dasharray="5.5 3.5" stroke-linecap="butt">
<path d="M750.2,432.5 C749,430 749.2,428.5 749.4,427.8 C750,425 751,423 752.5,421.6 C754,420.3 755.5,419.7 757.2,419.2 C759.5,418.5 761.5,418 763.4,416.9 C765,415.5 766.2,414 767.3,412.2 C768.5,410 769.8,407.8 771.25,405.9 C773,404 775,402.7 777.5,402 C779.5,401.5 781.5,401.5 783.75,401.25 C786,400 788,398.5 790,396.6 C791.5,395 793,393 794.7,391.9 C797,390.6 799.8,390.4 802.5,390.3 C805,390.1 807.8,390 810.3,389.5 C812,388.5 813.5,387.2 815,386.4 C817,385.7 819.2,385.4 821.25,385.6 C823.5,385.8 825.5,386.4 827.5,387.2 C829.7,388.3 831.7,389.8 833.75,391.1 C835.8,392.4 838,393.6 840,395 C841.8,396.4 843.4,398 844.7,399.7 C845.9,401.6 846.9,403.8 847.8,405.9 C848.9,408 850,410 851,412.2 C852,414.7 853.1,417.4 854,420 C854.9,423.2 855.6,426.3 856.4,429.4 C857.3,432.5 858.1,435.6 858.75,438.75 C859.4,441.9 859.9,445 860.3,448.1 C861.2,449.8 862.3,451.3 863.4,452.8 C866,456 868.6,459 871.25,462.2 C874.3,465.8 877.4,469.5 880.6,473.1 C883.7,476.3 886.9,479.4 890,482.5 C892.6,485.1 895.2,487.7 897.8,490.3 C903,496 908,503 912,509 C917,516 921.5,523 926.2,530"/>
<path d="M750.2,432.5 C750.4,435 750.6,437.7 751,440.3 C751.8,443 752.9,445.5 754,448.1 C755.1,450.7 756.1,453.3 757.2,455.9 C758.2,458.5 759.3,461.1 760.3,463.75 C761.3,466.4 762.4,469 763.4,471.6 C764.5,474.2 765.5,476.8 766.6,479.4 C767.6,481.5 768.5,483.7 769.7,485.6 C771.5,487.3 773.7,488.3 776,488.75 C779,489.5 782.2,490 785.3,490.3 C788.4,490.6 791.6,490.8 794.7,491.1 C798.3,491.4 802,491.7 805.6,491.9 C807.2,492 808.7,491.9 810.3,491.9 C812,493.4 813.6,494.9 815,496.6 C816.2,498.6 817.2,500.7 818.1,502.8 C819.2,505.4 820.2,508 821.25,510.6 C822.3,513.2 823.4,515.8 824.4,518.4 C825.5,521.5 826.5,524.6 827.5,527.8 C830,537 834,550 839.8,565.5"/>
<path d="M847.8,403.6 L885.5,369.5"/><path d="M852.5,411.4 L893,375.5"/>
<path d="M752.3,456.6 L686.5,538"/><path d="M753.7,470.8 L697.5,539"/>
<path d="M687.6,555.4 L816.5,608.2"/><path d="M693.4,567.1 L806.3,613.3"/>
<path d="M803.8,615.9 C799,619 796,622.5 793.6,626 C791,629.5 789.5,633 788.6,636.2 C789,641 790,646 791.1,651.4 C792.5,656 793.7,660 794.9,664.1 C796,667 797.5,669.5 798.7,671.7 C780,686 755,705 727.6,726.3"/>
<path d="M816.5,608.2 C819,606 821.5,604.5 824.1,603.2 C827.5,600.5 831,599 834.3,598.1 C839,597.5 843,597.5 847,598.1 C851,601 854,604.5 857.1,607 C862,609 867,611 872.4,613.3 C877,617 881,621.5 885,626 C887.5,629.5 890,633 892.7,636.2 C895,639.5 898,643 900.3,646.3 C901.5,649.5 902,653 901.6,656.5 C901,661.5 900,666.5 899,671.7 C897,674.5 895,677 892.7,679.3 C890,682 887.5,684.5 885,687 C881,689.5 877,692 872.4,694.6 C866,698 860,702 854.6,706 C851,711 847.5,716.5 844.4,722.5 C838,732 832,741 826.7,750.5 C816,765 805,779 793.6,793.6"/>
<path d="M890.1,684.4 L935.8,708.5"/><path d="M885,689.5 L930.8,717.4"/>
</g>
<g fill="none" stroke="#39393b" stroke-width="1.3" stroke-linecap="round">
<path d="M845.5,403 L852,401.5"/><path d="M849.5,411 L856,409"/>
<path d="M747.5,443.5 L752.5,446.5"/><path d="M755.5,461.5 L760,465"/>
<path d="M856.8,446.6 L861.5,449.5 L863,444.5"/>
</g>
<!-- sound arcs -->
<g fill="none" stroke="#2e2e30" stroke-width="1.8" stroke-linecap="round">
<path d="M690.5,527.1 C696,533 698,540 697.3,546 C696.8,553 695.8,559 694.4,564.2"/>
<path d="M706.1,519.3 C711,528 713.5,537 713,546 C712.5,553 711.5,559 709.6,564.7"/>
</g>

<!-- CLICK -->
<g font-family="Liberation Sans" font-weight="bold" font-size="33" fill="#2a292b" stroke="#2a292b" stroke-width="1.6" stroke-linejoin="round">
<text transform="translate(725.6,551.8) rotate(-2.5) scale(0.6,1)" style="vector-effect:non-scaling-stroke">C</text>
<text transform="translate(745.9,550.9) rotate(-2.5) scale(0.6,1)" style="vector-effect:non-scaling-stroke">L</text>
<text transform="translate(762.0,550.2) rotate(-2.5) scale(0.6,1)" style="vector-effect:non-scaling-stroke">I</text>
<text transform="translate(773.9,549.7) rotate(-2.5) scale(0.6,1)" style="vector-effect:non-scaling-stroke">C</text>
<text transform="translate(793.7,548.8) rotate(-2.5) scale(0.6,1)" style="vector-effect:non-scaling-stroke">K</text>
<text transform="translate(812.6,548.0) rotate(-2.5) scale(0.6,1)" style="vector-effect:non-scaling-stroke">!</text>
</g>

<!-- dashed arc arrow -->
<circle cx="971.1" cy="441.4" r="4.7" fill="#2f2e30"/>
<path d="M978.3,453.4 L983.3,463.2 M988.8,475.4 L992.8,485.6 M996.7,498.0 L999.5,508.6 M1002.1,521.5 L1003.9,532.3 M1005.5,546.0 L1006.1,557.0 M1006.0,570.0 L1005.8,581.0 M1005.1,594.5 L1003.9,605.5 M1001.4,618.6 L999.0,629.4 M995.5,641.9 L992.3,652.5 M987.8,665.3 L983.7,675.5 M978.0,688.0 L973.0,697.8 M966.4,708.8 L960.4,718.0 M952.9,729.0 L946.1,737.6 M937.1,747.5 L929.5,755.5 M922.5,761.5 L913,771" fill="none" stroke="#2f2e30" stroke-width="8.6" stroke-linecap="round"/>
<path d="M896.4,782 L906.4,760.9 L920.4,779.6 Z" fill="#2f2e30" stroke="#2f2e30" stroke-width="1" stroke-linejoin="round"/>

<text x="563.3" y="947.6" font-size="35" fill="#2a292b" stroke="#2a292b" stroke-width="0.3">2</text>
</g>
</svg>
</body></html>
